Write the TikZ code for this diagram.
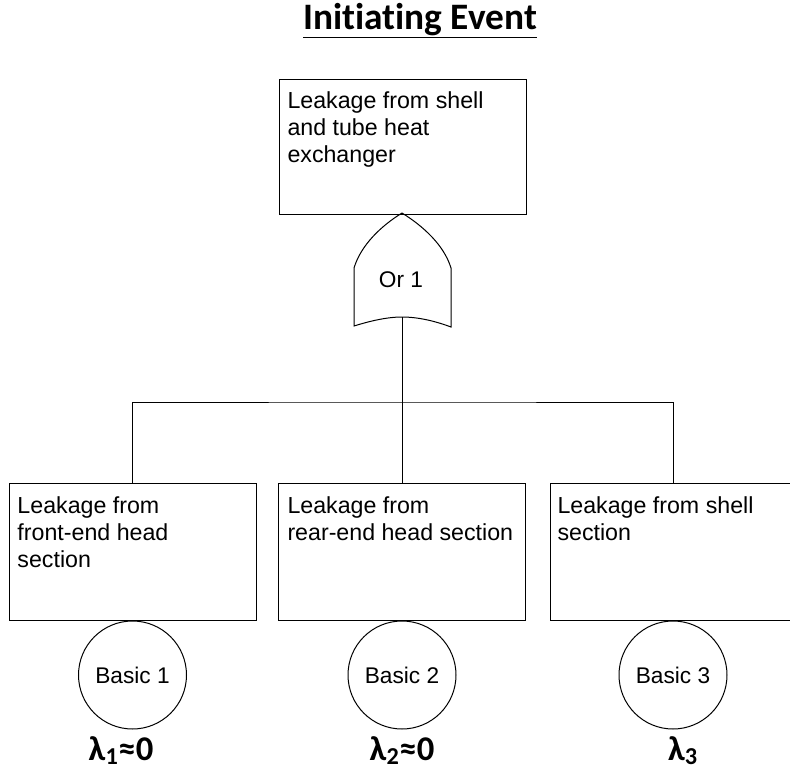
\documentclass[tikz,border=0pt]{standalone}
\usepackage{fontspec}
\setmainfont{Liberation Sans}
\newfontfamily\calfont[Ligatures=NoCommon]{Carlito}
\begin{document}
\begin{tikzpicture}[x=0.75pt,y=-0.75pt,
  line width=0.75pt,
  evbox/.style={draw,rectangle,inner sep=0pt,minimum width=247*0.75pt,minimum height=137*0.75pt},
  evtext/.style={anchor=north west,inner sep=0pt,align=left,font=\fontsize{17.4pt}{20.25pt}\selectfont},
  basic/.style={draw,circle,inner sep=0pt,minimum size=108*0.75pt,font=\fontsize{17pt}{20pt}\selectfont},
  lam/.style={anchor=base,inner sep=0pt,font=\calfont\bfseries\fontsize{26pt}{30pt}\selectfont}]
\useasboundingbox (0,0) rectangle (790,772);
\begin{scope}
\clip (0,0) rectangle (790,772);
% title
\node[anchor=base,inner sep=0pt,font=\calfont\bfseries\fontsize{28pt}{32pt}\selectfont] (title) at (420,29) {\underline{Initiating Event}};
% top event
\node[evbox,minimum height=135*0.75pt] (top) at (403,146.5) {};
\node[evtext] (toptxt) at (287,91) {Leakage from shell\\and tube heat\\exchanger};
% or gate
\coordinate (gt) at (402,213);
\coordinate (gb) at (402,317);
\draw (gt) .. controls (381,226) and (361,245) .. (354,268) -- (354,326)
      .. controls (370,321) and (387,317) .. (gb)
      .. controls (418,317) and (435,321) .. (451,327) -- (451,268)
      .. controls (444,245) and (423,226) .. (gt);
\node[inner sep=0pt,font=\fontsize{17pt}{20pt}\selectfont] (or1) at (401,280) {Or 1};
% basic events boxes
\node[evbox] (b1) at (132.5,551.5) {};
\node[evbox] (b2) at (402,551.5) {};
\node[evbox,minimum width=246*0.75pt] (b3) at (673,551.5) {};
\node[evtext] (t1) at (17,496) {Leakage from\\front-end head\\section};
\node[evtext] (t2) at (287,496) {Leakage from\\rear-end head section};
\node[evtext] (t3) at (557,496) {Leakage from shell\\section};
% connectors
\coordinate (bar) at (402,402);
\draw (gb) -- (bar);
\draw (b1.north) |- (bar) -| (b3.north);
\draw (bar) -- (b2.north);
% circles
\node[basic,anchor=north] (c1) at (b1.south) {Basic 1};
\node[basic,anchor=north] (c2) at (b2.south) {Basic 2};
\node[basic,anchor=north] (c3) at (b3.south) {Basic 3};
% lambdas
\node[lam] (l1) at (121,760) {λ\textsubscript{1}≈0};
\node[lam] (l2) at (402,760) {λ\textsubscript{2}≈0};
\node[lam] (l3) at (683,760) {λ\textsubscript{3}};
\end{scope}
\end{tikzpicture}
\end{document}
